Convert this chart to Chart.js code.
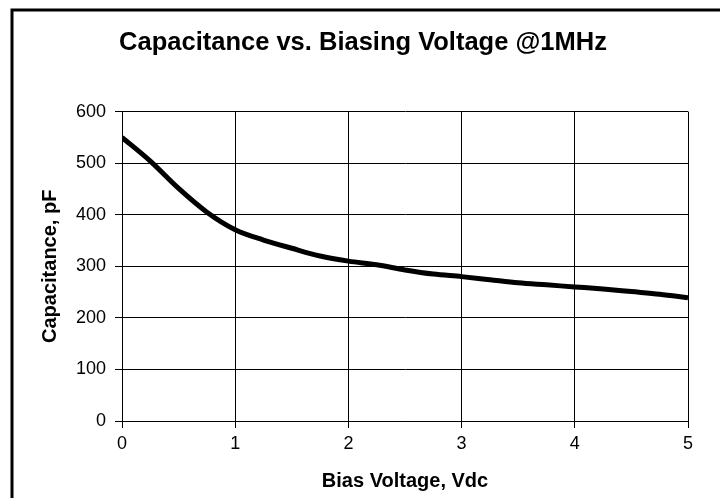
<!DOCTYPE html>
<html>
<head>
<meta charset="utf-8">
<script src="https://cdn.jsdelivr.net/npm/chart.js@4/dist/chart.umd.min.js"></script>
<style>
  html, body { margin: 0; padding: 0; background: #fff; }
  #wrap { position: relative; width: 720px; height: 498px; }
</style>
</head>
<body>
<div id="wrap"><canvas id="myChart" width="720" height="498"></canvas></div>
<script>
// bias voltage (Vdc) and measured capacitance (pF)
const voltage = [0, 0.25, 0.5, 0.75, 1, 1.25, 1.5, 1.75, 2, 2.25, 2.5, 2.75, 3, 3.25, 3.5, 3.75, 4, 4.25, 4.5, 4.75, 5];
const capacitance = [550, 504, 451, 405, 371, 351, 335, 320, 310, 303, 293, 285, 280, 274, 268, 264, 260, 256, 251, 246, 239];
const xTicks = [0, 1, 2, 3, 4, 5];
const yTicks = [0, 100, 200, 300, 400, 500, 600];

const points = voltage.map((v, i) => ({ x: v, y: capacitance[i] }));

// outer frame, only top and left edges are visible in the picture
const framePlugin = {
    id: 'frame',
    afterDraw(chart) {
        const ctx = chart.ctx;
        ctx.save();
        ctx.strokeStyle = '#000';
        ctx.lineWidth = 3;
        ctx.beginPath();
        ctx.moveTo(12, 498);
        ctx.lineTo(12, 10);
        ctx.lineTo(720, 10);
        ctx.stroke();
        ctx.restore();
    }
};

Chart.defaults.font.family = '"Liberation Sans", Arial, sans-serif';
Chart.defaults.color = '#000';

const config = {
    type: 'line',
    data: {
        datasets: [{
            label: 'Capacitance',
            data: points,
            borderColor: '#000',
            borderWidth: 5,
            pointRadius: 0,
            fill: false,
            cubicInterpolationMode: 'monotone'
        }]
    },
    options: {
        responsive: false,
        animation: false,
        layout: { padding: { top: 0, right: 32, bottom: 0, left: 38 } },
        plugins: {
            legend: { display: false },
            tooltip: { enabled: false },
            title: {
                display: true,
                text: 'Capacitance vs. Biasing Voltage @1MHz',
                font: { size: 25.5, weight: 'bold' },
                color: '#000',
                padding: { top: 28, bottom: 53 }
            }
        },
        scales: {
            x: {
                type: 'linear',
                min: 0,
                max: 5,
                afterBuildTicks(scale) { scale.ticks = xTicks.map(v => ({ value: v })); },
                afterFit(scale) { scale.height = 77; },
                grid: { color: '#000', lineWidth: 1, tickLength: 7, tickColor: '#000' },
                border: { color: '#000', width: 1 },
                ticks: { font: { size: 18 }, padding: 5, color: '#000' },
                title: {
                    display: true,
                    text: 'Bias Voltage, Vdc',
                    font: { size: 20, weight: 'bold' },
                    padding: { top: 0, bottom: 5 }
                }
            },
            y: {
                min: 0,
                max: 600,
                afterBuildTicks(scale) { scale.ticks = yTicks.map(v => ({ value: v })); },
                afterFit(scale) { scale.width = 84; },
                grid: { color: '#000', lineWidth: 1, tickLength: 7, tickColor: '#000' },
                border: { color: '#000', width: 1 },
                ticks: { font: { size: 18 }, padding: 9, color: '#000' },
                title: {
                    display: true,
                    text: 'Capacitance, pF',
                    font: { size: 20, weight: 'bold' },
                    padding: { top: 0, bottom: 0 }
                }
            }
        }
    },
    plugins: [framePlugin]
};

const myChart = new Chart(document.getElementById('myChart'), config);
</script>
</body>
</html>
